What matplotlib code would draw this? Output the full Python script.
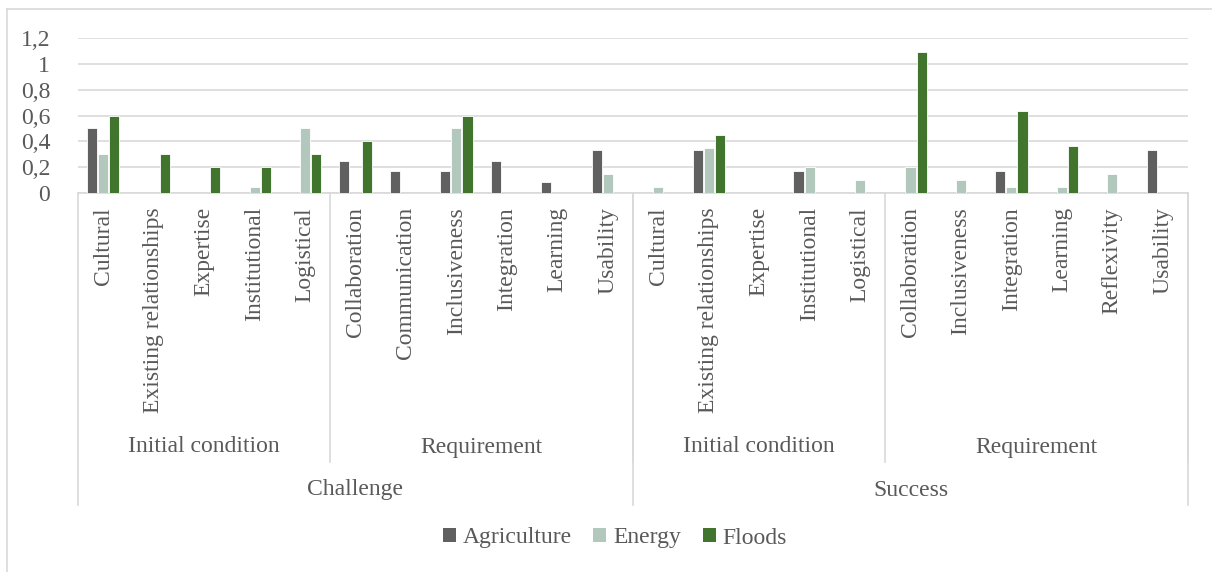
import numpy as np
import matplotlib
matplotlib.use("Agg")
import matplotlib.pyplot as plt
from matplotlib.patches import Patch
from matplotlib.lines import Line2D
import matplotlib.transforms as mtransforms

plt.rcParams['font.family'] = ['Liberation Serif', 'DejaVu Serif']

# Datos
categories = ['Cultural', 'Existing relationships', 'Expertise', 'Institutional', 'Logistical',
              'Collaboration', 'Communication', 'Inclusiveness', 'Integration', 'Learning', 'Usability',
              'Cultural', 'Existing relationships', 'Expertise', 'Institutional', 'Logistical',
              'Collaboration', 'Inclusiveness', 'Integration', 'Learning', 'Reflexivity', 'Usability']
sub_groups = ['Initial condition', 'Requirement', 'Initial condition', 'Requirement']
sub_sizes = [5, 6, 5, 6]
top_groups = ['Challenge', 'Success']
top_sizes = [11, 11]

agriculture = [0.5, 0, 0, 0, 0,
               0.25, 0.167, 0.167, 0.25, 0.083, 0.333,
               0, 0.333, 0, 0.167, 0,
               0, 0, 0.167, 0, 0, 0.333]
energy = [0.3, 0, 0, 0.05, 0.5,
          0, 0, 0.5, 0, 0, 0.15,
          0.05, 0.35, 0, 0.2, 0.1,
          0.2, 0.1, 0.05, 0.05, 0.15, 0]
floods = [0.6, 0.3, 0.2, 0.2, 0.3,
          0.4, 0, 0.6, 0, 0, 0,
          0, 0.45, 0, 0, 0,
          1.09, 0, 0.636, 0.364, 0, 0]

series = ['Agriculture', 'Energy', 'Floods']
colors = ['#606060', '#b2c8bc', '#41752e']
text_col = '#595959'
grid_col = '#d9d9d9'
fs = 17

W, H = 1212, 572
fig = plt.figure(figsize=(W / 100, H / 100), dpi=100)
ax = fig.add_axes([78 / W, 1 - 193 / H, 1110 / W, 155 / H])

x = np.arange(len(categories))
bw = 0.2
for i, (vals, c) in enumerate(zip([agriculture, energy, floods], colors)):
    ax.bar(x + (i - 1) * 0.22, vals, width=bw, color=c, edgecolor='white', linewidth=0.6, zorder=3)

ax.set_xlim(-0.5, len(categories) - 0.5)
ax.set_ylim(0, 1.2)
yt = np.arange(0, 1.21, 0.2)
ax.set_yticks(yt)
ax.set_yticklabels([('%g' % round(v, 1)).replace('.', ',') for v in yt], fontsize=fs, color=text_col)
ax.tick_params(axis='y', length=0, pad=20)
ax.tick_params(axis='x', length=0, labelbottom=False)
ax.grid(axis='y', color=grid_col, linewidth=1.2, zorder=0)
for s in ['left', 'right', 'top']:
    ax.spines[s].set_visible(False)
ax.spines['bottom'].set_color(grid_col)
ax.spines['bottom'].set_linewidth(1.2)

# Ejes de categorías en varios niveles
px = mtransforms.blended_transform_factory(ax.transData, fig.transFigure)


def fy(p):
    return 1 - p / H


for xi, name in zip(x, categories):
    fig.text(xi, fy(207), name, transform=px, rotation=90, ha='center', va='top',
             fontsize=fs, color=text_col)

pos = -0.5
for name, n in zip(sub_groups, sub_sizes):
    fig.text(pos + n / 2, fy(447), name, transform=px, ha='center', va='center',
             fontsize=fs, color=text_col)
    pos += n
    fig.add_artist(Line2D([pos, pos], [fy(193), fy(462)], transform=px, color=grid_col, lw=1.2))

pos = -0.5
fig.add_artist(Line2D([pos, pos], [fy(193), fy(505)], transform=px, color=grid_col, lw=1.2))
for name, n in zip(top_groups, top_sizes):
    fig.text(pos + n / 2, fy(490), name, transform=px, ha='center', va='center',
             fontsize=fs, color=text_col)
    pos += n
    fig.add_artist(Line2D([pos, pos], [fy(193), fy(505)], transform=px, color=grid_col, lw=1.2))

handles = [Patch(facecolor=c, edgecolor='none') for c in colors]
leg = fig.legend(handles, series, loc='center', bbox_to_anchor=(615 / W, fy(538)), ncol=3,
                 frameon=False, fontsize=fs, handlelength=0.55, handleheight=0.55,
                 handletextpad=0.3, columnspacing=0.9)
for t in leg.get_texts():
    t.set_color(text_col)

# Borde del área del gráfico (solo izquierda y arriba quedan dentro de la imagen)
fig.add_artist(Line2D([7 / W, 7 / W], [0, fy(9)], transform=fig.transFigure, color=grid_col, lw=1.2))
fig.add_artist(Line2D([7 / W, 1], [fy(9), fy(9)], transform=fig.transFigure, color=grid_col, lw=1.2))

fig.savefig('out.png', dpi=100)
